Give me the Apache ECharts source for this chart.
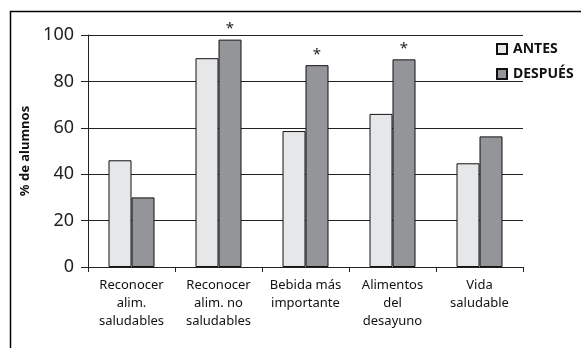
<!DOCTYPE html>
<html>
<head>
<meta charset="utf-8">
<script src="https://cdn.jsdelivr.net/npm/echarts@6/dist/echarts.min.js"></script>
<style>html,body{margin:0;padding:0;background:#fff}#c{width:581px;height:348px}</style>
</head>
<body>
<div id="c"></div>
<script>
var categories = ['Reconocer\nalim.\nsaludables', 'Reconocer\nalim. no\nsaludables', 'Bebida más\nimportante', 'Alimentos\ndel\ndesayuno', 'Vida\nsaludable'];
var antes = [46, 90, 58.6, 66, 44.7];
var despues = [30, 98, 87, 89.5, 56.3];
var significant = [false, true, true, true, false];
var yTicks = [0, 20, 40, 60, 80, 100];

var font = 'Noto Sans';
var chart = echarts.init(document.getElementById('c'), null, {renderer: 'canvas'});
chart.setOption({
  animation: false,
  backgroundColor: '#fff',
  graphic: [{
    type: 'rect', left: 8, top: 9, silent: true,
    shape: {width: 600, height: 400},
    style: {fill: 'none', stroke: '#000', lineWidth: 1.5}
  }],
  grid: {left: 88, right: 58, top: 35, bottom: 81},
  legend: {
    orient: 'vertical', left: 496, top: 42, padding: 0, itemWidth: 10, itemHeight: 10, itemGap: 11,
    icon: 'rect',
    textStyle: {fontFamily: font, fontWeight: 'bold', fontSize: 14, color: '#111', padding: [0, 0, 0, 1]},
    data: ['ANTES', 'DESPUÉS']
  },
  xAxis: {
    type: 'category', data: categories,
    axisLine: {show: true, lineStyle: {color: '#222', width: 1}},
    axisTick: {show: true, length: 5, lineStyle: {color: '#222'}},
    axisLabel: {fontFamily: font, fontSize: 13, color: '#111', lineHeight: 18, margin: 9, interval: 0}
  },
  yAxis: {
    type: 'value', min: yTicks[0], max: yTicks[yTicks.length - 1], interval: 20,
    name: '% de alumnos', nameLocation: 'middle', nameGap: 54,
    nameTextStyle: {fontFamily: font, fontWeight: 'bold', fontSize: 13, color: '#111'},
    axisLine: {show: true, lineStyle: {color: '#222', width: 1}},
    axisTick: {show: true, length: 7, lineStyle: {color: '#222'}},
    axisLabel: {fontFamily: font, fontSize: 18, color: '#222', margin: 14},
    splitLine: {show: true, lineStyle: {color: '#222', width: 1}}
  },
  series: [{
    name: 'ANTES', type: 'bar', data: antes, barWidth: 23, barGap: '0%',
    itemStyle: {color: '#e6e7e8', borderColor: '#111', borderWidth: 1}
  }, {
    name: 'DESPUÉS', type: 'bar', barWidth: 23,
    data: despues.map(function (v, i) {
      return {value: v, label: {show: significant[i]}};
    }),
    label: {position: 'top', formatter: '*', distance: 3, fontFamily: font, fontSize: 15, color: '#222'},
    itemStyle: {color: '#939598', borderColor: '#111', borderWidth: 1}
  }]
});
</script>
</body>
</html>
